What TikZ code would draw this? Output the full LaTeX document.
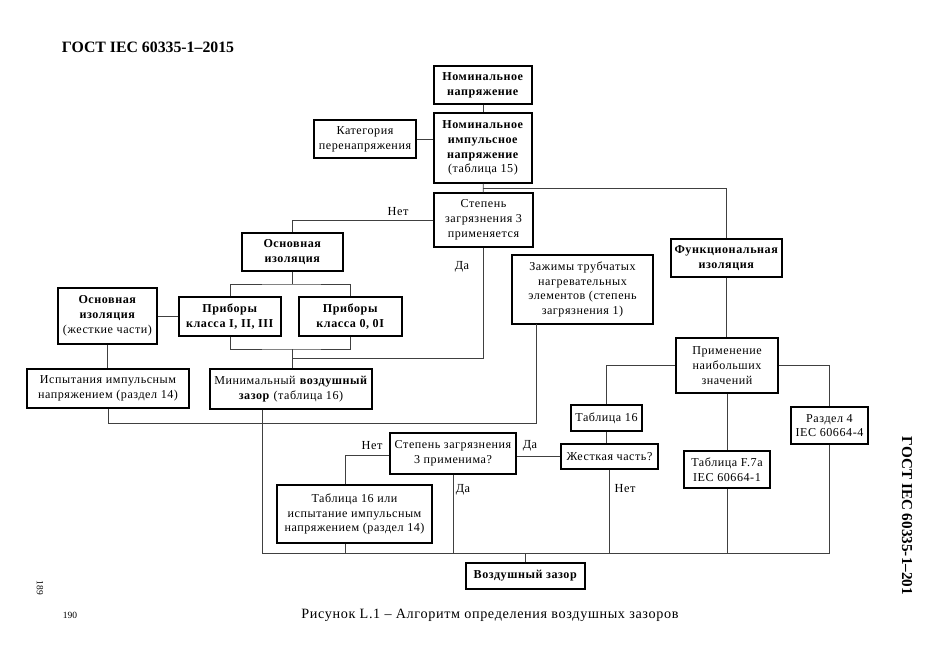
\documentclass[tikz,border=0pt]{standalone}
\usepackage{fontspec}
\setmainfont{Liberation Serif}
\newfontfamily\bxf{Liberation Serif}[LetterSpace=4.5]
\begin{document}
\begin{tikzpicture}[x=1pt,y=-1pt,
  box/.style={draw, line width=1.3pt, inner sep=0pt, align=center,
    font=\bxf\fontsize{12.1}{14.8}\selectfont},
  sz/.style 2 args={minimum width=#1pt, minimum height=#2pt},
  wire/.style={draw=black!75, line width=0.7pt},
  lbl/.style={font=\bxf\fontsize{12.3}{13}\selectfont, inner sep=0pt}]
\useasboundingbox (0,0) rectangle (935,661);
\fill[white] (0,0) rectangle (935,661);

% header and margins
\node[font=\bfseries\fontsize{15.8}{17}\selectfont, inner sep=0pt] (hdr) at (148,47) {ГОСТ IEC 60335-1–2015};
\node[font=\bfseries\fontsize{15.2}{16}\selectfont, inner sep=0pt, rotate=-90] (side) at (907,516) {ГОСТ IEC 60335-1–201};
\node[font=\fontsize{9.5}{10}\selectfont, inner sep=0pt, rotate=-90] (p189) at (40,588) {189};
\node[font=\fontsize{9.5}{10}\selectfont, inner sep=0pt] (p190) at (70,615) {190};
\node[font=\bxf\fontsize{14.2}{16}\selectfont, inner sep=0pt] (cap) at (490,615) {Рисунок L.1 – Алгоритм определения воздушных зазоров};

% boxes
\node[box, sz={98}{38}] (n1) at (483,85) {\textbf{Номинальное}\\\textbf{напряжение}};
\node[box, sz={102}{38}] (n2) at (365,139) {Категория\\перенапряжения};
\node[box, sz={98}{70}] (n3) at (483,148) {\textbf{Номинальное}\\\textbf{импульсное}\\\textbf{напряжение}\\(таблица 15)};
\node[box, sz={99}{54}] (n4) at (483.5,220) {Степень\\загрязнения 3\\применяется};
\node[box, sz={101}{38}] (n5) at (292.5,252) {\textbf{Основная}\\\textbf{изоляция}};
\node[box, sz={102}{39}] (n6) at (230,316.5) {\textbf{Приборы}\\\textbf{класса I, II, III}};
\node[box, sz={103}{39}] (n7) at (350.5,316.5) {\textbf{Приборы}\\\textbf{класса 0, 0I}};
\node[box, sz={99}{56}] (n8) at (107.5,316) {\textbf{Основная}\\\textbf{изоляция}\\(жесткие части)};
\node[box, sz={162}{39}] (n9) at (108,388.5) {Испытания импульсным\\напряжением (раздел 14)};
\node[box, sz={162}{40}] (n10) at (291,389) {Минимальный \textbf{воздушный}\\\textbf{зазор} (таблица 16)};
\node[box, sz={141}{69}] (n11) at (582.5,289.5) {Зажимы трубчатых\\нагревательных\\элементов (степень\\загрязнения 1)};
\node[box, sz={111}{38}] (n12) at (726.5,258) {\textbf{Функциональная}\\\textbf{изоляция}};
\node[box, sz={102}{55}] (n13) at (727,365.5) {Применение\\наибольших\\значений};
\node[box, sz={71}{26}] (n14) at (606.5,418) {Таблица 16};
\node[box, sz={97}{25}] (n15) at (609.5,456.5) {Жесткая часть?};
\node[box, sz={86}{37}] (n16) at (727,469.5) {Таблица F.7a\\IEC 60664-1};
\node[box, sz={77}{37}] (n17) at (829.5,425.5) {Раздел 4\\IEC 60664-4};
\node[box, sz={126}{41}] (n18) at (453,453.5) {Степень загрязнения\\3 применима?};
\node[box, sz={155}{58}] (n19) at (354.5,514) {Таблица 16 или\\испытание импульсным\\напряжением (раздел 14)};
\node[box, sz={119}{26}] (n20) at (525.5,576) {\textbf{Воздушный зазор}};

% junction coordinates
\coordinate (j1) at (483,188);
\coordinate (b1) at (292.5,284);
\coordinate (b2) at (292.5,349);
\coordinate (b3) at (292.5,358);
\coordinate (c1) at (536,423);
\coordinate (c2) at (536,324);
\coordinate (d1) at (345,455);
\coordinate (bl) at (262,553);
\coordinate (br) at (829.5,553);
\coordinate (bm) at (525.5,553);

% connectors
\draw[wire] (n1) -- (n3);
\draw[wire] (n2.east) -- (n2.east -| n3.west);
\draw[wire] (n3) -- (n4);
\draw[wire] (j1) -| (n12.north);
\draw[wire] (n4.west) -| (n5.north);
\draw[wire] (n5.south) -- (b1);
\draw[wire] (n6.north) |- (b1) -| (n7.north);
\draw[wire] (n6.south) |- (b2) -| (n7.south);
\draw[wire] (b2) -- (b2 |- n10.north);
\draw[wire] (n4.south) |- (b3);
\draw[wire] (n6.west) -- (n6.west -| n8.east);
\draw[wire] (n8.south) -- (n8.south |- n9.north);
\draw[wire] (n9.south) |- (c1) -- (c2);
\draw[wire] (n12.south) -- (n12.south |- n13.north);
\draw[wire] (n13.west) -| (n14.north);
\draw[wire] (n13.east) -| (n17.north);
\draw[wire] (n13) -- (n16);
\draw[wire] (n14.south) -- (n14.south |- n15.north);
\draw[wire] (n15.west) -- (n15.west -| n18.east);
\draw[wire] (n18.west |- d1) -| (d1 |- n19.north);
\draw[wire] (n18.south) -- (n18.south |- bl);
\draw[wire] (d1 |- n19.south) -- (d1 |- bl);
\draw[wire] (n15.south) -- (n15.south |- bl);
\draw[wire] (n16.south) -- (n16.south |- bl);
\draw[wire] (n17.south) -- (br);
\draw[wire] (bl |- n10.south) -- (bl) -- (br);
\draw[wire] (bm) -- (n20.north);

% labels
\node[lbl] (l1) at (398,212) {Нет};
\node[lbl] (l2) at (462,267) {Да};
\node[lbl] (l3) at (372,446) {Нет};
\node[lbl] (l4) at (530,446) {Да};
\node[lbl] (l5) at (463,490) {Да};
\node[lbl] (l6) at (625,489) {Нет};
\end{tikzpicture}
\end{document}
